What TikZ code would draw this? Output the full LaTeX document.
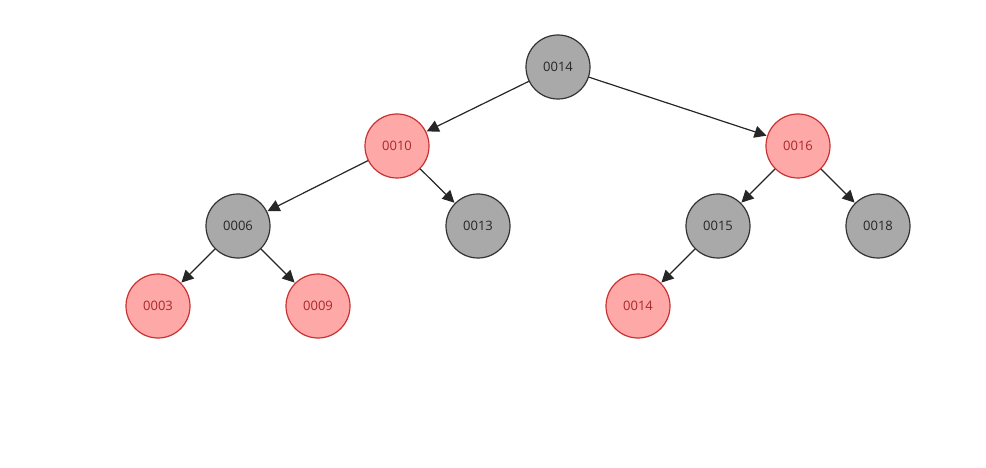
\documentclass[tikz,border=0pt]{standalone}
\usepackage{fontspec}
\setmainfont{Open Sans}
\usetikzlibrary{arrows.meta}
\definecolor{grayfill}{HTML}{A9A9A9}
\definecolor{grayline}{HTML}{333333}
\definecolor{redfill}{HTML}{FFA8A8}
\definecolor{redline}{HTML}{C83232}
\definecolor{redtext}{HTML}{A82828}
\tikzset{
  blk/.style={circle, draw=grayline, fill=grayfill, line width=1.2pt, minimum size=64pt, inner sep=0pt, text=black!85, font=\fontsize{13}{15}\selectfont},
  rd/.style={circle, draw=redline, fill=redfill, line width=1.2pt, minimum size=64pt, inner sep=0pt, text=redtext, font=\fontsize{13}{15}\selectfont},
  edge/.style={draw=black!85, line width=1.2pt, -{Triangle[length=12pt,width=12pt]}, shorten >=0.5pt}
}
\begin{document}
\begin{tikzpicture}[x=1pt,y=-1pt]
\useasboundingbox (0,0) rectangle (986,468);
\node[blk] (n14) at (558,67) {0014};
\node[rd] (n10) at (397,146) {0010};
\node[rd] (n16) at (798,146) {0016};
\node[blk] (n06) at (238,226) {0006};
\node[blk] (n13) at (478,226) {0013};
\node[blk] (n15) at (718,226) {0015};
\node[blk] (n18) at (878,226) {0018};
\node[rd] (n03) at (158,306) {0003};
\node[rd] (n09) at (318,306) {0009};
\node[rd] (n14b) at (638,306) {0014};
\draw[edge] (n14) -- (n10);
\draw[edge] (n14) -- (n16);
\draw[edge] (n10) -- (n06);
\draw[edge] (n10) -- (n13);
\draw[edge] (n16) -- (n15);
\draw[edge] (n16) -- (n18);
\draw[edge] (n06) -- (n03);
\draw[edge] (n06) -- (n09);
\draw[edge] (n15) -- (n14b);
\end{tikzpicture}
\end{document}
